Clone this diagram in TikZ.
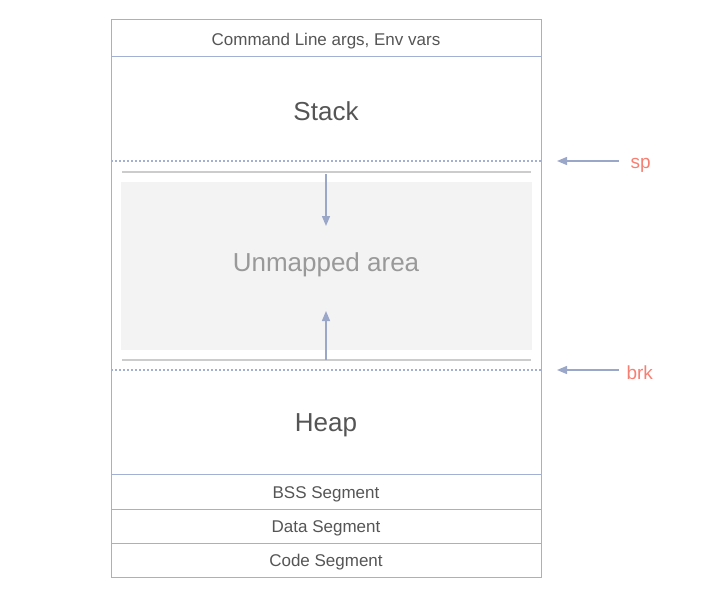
\documentclass[tikz,border=0pt]{standalone}
\usepackage{fontspec}
\setmainfont{Liberation Sans}
\usetikzlibrary{arrows.meta}
\definecolor{bord}{HTML}{A3AFD3}
\definecolor{arr}{HTML}{9AA7C9}
\definecolor{txt}{HTML}{555555}
\definecolor{redt}{HTML}{F77F72}
\definecolor{unm}{HTML}{999999}
\definecolor{unfill}{HTML}{F3F3F3}
\definecolor{glin}{HTML}{CCCCCC}
\tikzset{
  ptr/.style={draw=arr, line width=1.3pt, -{Triangle[length=10pt,width=8pt]}},
  lbl/.style={text=redt, font=\fontsize{19}{21}\selectfont, anchor=west},
  big/.style={text=txt, font=\fontsize{26}{28}\selectfont},
  small/.style={text=txt, font=\fontsize{17}{19}\selectfont},
  sepline/.style={draw=bord, line width=1pt},
  dotline/.style={draw=bord, line width=1.1pt, dash pattern=on 2pt off 2pt}
}
\begin{document}
\begin{tikzpicture}[x=1pt,y=-1pt]
\useasboundingbox (0,0) rectangle (721,600);
\node[draw=none, fill=unfill, minimum width=411pt, minimum height=168pt, inner sep=0pt] (unm) at (326.5,266) {};
\node[small] (cl) at (326,41) {Command Line args, Env vars};
\node[big] (stacklbl) at (326,111) {Stack};
\node[big, text=unm] (unmlbl) at (326,265) {Unmapped area};
\node[big] (heaplbl) at (326,425) {Heap};
\node[small] (bsslbl) at (326,494) {BSS Segment};
\node[small] (datalbl) at (326,528) {Data Segment};
\node[small] (codelbl) at (326,562) {Code Segment};
% outer frame and separators
\draw[sepline] (111,19) rectangle (541,577);
\draw[sepline] (111,56) -- (541,56);
\draw[sepline] (111,474) -- (541,474);
\draw[sepline] (111,509) -- (541,509);
\draw[sepline] (111,543) -- (541,543);
% dotted boundaries
\draw[dotline] (111,161) -- (541,161);
\draw[dotline] (111,370) -- (541,370);
% gray lines
\draw[glin, line width=1.5pt] (122,172) -- (531,172);
\draw[glin, line width=1.5pt] (122,360) -- (531,360);
% growth arrows
\coordinate (dtop) at (326,174);
\coordinate (dbot) at (326,226);
\coordinate (utop) at (326,311);
\coordinate (ubot) at (326,360);
\draw[ptr] (dtop) -- (dbot);
\draw[ptr] (ubot) -- (utop);
% pointers
\node[lbl] (sp) at (627,165) {sp};
\node[lbl] (brk) at (623,373) {brk};
\coordinate (spt) at (557,161);
\coordinate (brkt) at (557,370);
\draw[ptr] (619,161) -- (spt);
\draw[ptr] (619,370) -- (brkt);
\end{tikzpicture}
\end{document}
